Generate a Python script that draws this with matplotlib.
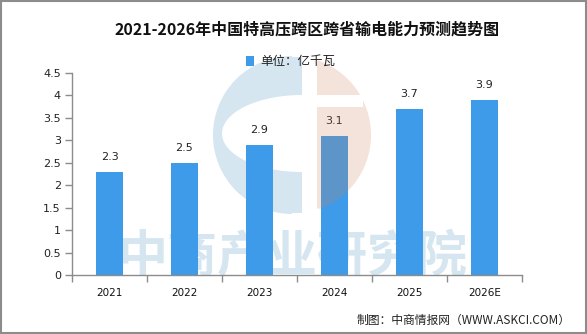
import matplotlib
matplotlib.use("Agg")
import matplotlib.pyplot as plt
from matplotlib.patches import Wedge, Rectangle, Ellipse, Polygon
import numpy as np

plt.rcParams['font.family'] = ['Noto Sans CJK SC', 'DejaVu Sans']

years = ["2021", "2022", "2023", "2024", "2025", "2026E"]
capacity = [2.3, 2.5, 2.9, 3.1, 3.7, 3.9]
y_ticks = [0, 0.5, 1, 1.5, 2, 2.5, 3, 3.5, 4, 4.5]
y_labels = ["0", "0.5", "1", "1.5", "2", "2.5", "3", "3.5", "4", "4.5"]

title = "2021-2026年中国特高压跨区跨省输电能力预测趋势图"
unit = "单位：亿千瓦"
source = "制图：中商情报网（WWW.ASKCI.COM）"
brand = "中商产业研究院"

bar_color = "#3d9be9"
axis_color = "#8c8c8c"
mark_blue = "#d5e6f1"

fig = plt.figure(figsize=(5.87, 3.34), dpi=100)
W, H = 587, 334


def fx(px):
    return px / W


def fy(py):
    return 1 - py / H


def pixel_axes(z):
    a = fig.add_axes([0, 0, 1, 1], zorder=z)
    a.set_xlim(0, W)
    a.set_ylim(H, 0)
    a.axis("off")
    a.patch.set_alpha(0)
    return a


# Background brand mark (behind the bars)
bg = pixel_axes(0)
cx, cy, r = 292, 135, 79
bg.add_patch(Wedge((cx, cy), r, 90, 270, facecolor=mark_blue, edgecolor="none"))
bg.add_patch(Rectangle((cx, cy - np.sqrt(r**2 - 10**2)), 10,
                       2 * np.sqrt(r**2 - 10**2), facecolor=mark_blue,
                       edgecolor="none"))
bg.add_patch(Ellipse((302, 133.5), 160, 77, facecolor="white", edgecolor="none"))
bg.text(293, 258, brand, ha="center", va="center", fontsize=36,
        color=mark_blue, fontweight="bold")

# Main chart
ax = fig.add_axes([fx(72), fy(275), fx(522) - fx(72), fy(73) - fy(275)], zorder=1)
ax.patch.set_alpha(0)
x = np.arange(len(years))
ax.bar(x, capacity, width=0.37, color=bar_color, zorder=2)
for xi, v in zip(x, capacity):
    ax.annotate(f"{v:g}", (xi, v), xytext=(0, 7), textcoords="offset points",
                ha="center", va="bottom", fontsize=8, color="#222222",
                family="DejaVu Sans")

ax.set_xlim(-0.5, len(years) - 0.5)
ax.set_ylim(0, 4.5)
ax.set_yticks(y_ticks)
ax.set_yticklabels(y_labels, family="DejaVu Sans", fontsize=8, color="#222222")
ax.set_xticks(x)
ax.set_xticklabels(years, family="DejaVu Sans", fontsize=7.5, color="#111111")
ax.set_xticks(np.arange(-0.5, len(years)), minor=True)
ax.tick_params(axis="x", which="major", length=0, pad=9)
ax.tick_params(axis="x", which="minor", length=5, color=axis_color, width=1)
ax.tick_params(axis="y", length=5, color=axis_color, width=1, pad=3)
for s in ("top", "right"):
    ax.spines[s].set_visible(False)
for s in ("left", "bottom"):
    ax.spines[s].set_color(axis_color)
    ax.spines[s].set_linewidth(1)

# Translucent orange half of the mark, laid over the bars
fg = pixel_axes(2)
x0, x_gap, y_gap0, y_gap1 = 317, 363, 95, 107


def circle_band(y_top, y_bot, left):
    ys = np.linspace(y_top, y_bot, 60)
    right = cx + np.sqrt(np.clip(r**2 - (ys - cy) ** 2, 0, None))
    keep = right > left
    ys, right = ys[keep], right[keep]
    pts = [(left, ys[0])] + list(zip(right, ys)) + [(left, ys[-1])]
    return pts


orange_kw = dict(facecolor="#d0805a", alpha=0.22, edgecolor="none")
for pts in (circle_band(cy - r, y_gap0, x0),
            circle_band(y_gap0, y_gap1, x_gap),
            circle_band(y_gap1, cy + r, x0)):
    fg.add_patch(Polygon(pts, closed=True, **orange_kw))

fig.text(fx(307), fy(30), title, ha="center", va="center", fontsize=11.5,
         fontweight="bold", color="#111111")
fig.patches.append(Rectangle((fx(246), fy(66)), fx(8), fy(56) - fy(66),
                             transform=fig.transFigure, facecolor=bar_color,
                             edgecolor="none"))
fig.text(fx(260), fy(61), unit, ha="left", va="center", fontsize=9,
         color="#222222")
fig.text(fx(571), fy(320), source, ha="right", va="center", fontsize=8.5,
         color="#222222")

fig.patches.append(Rectangle((0.001, 0.002), 0.997, 0.996,
                             transform=fig.transFigure, facecolor="none",
                             edgecolor="#8c8c8c", linewidth=1.5))

fig.savefig("out.png", dpi=100)
